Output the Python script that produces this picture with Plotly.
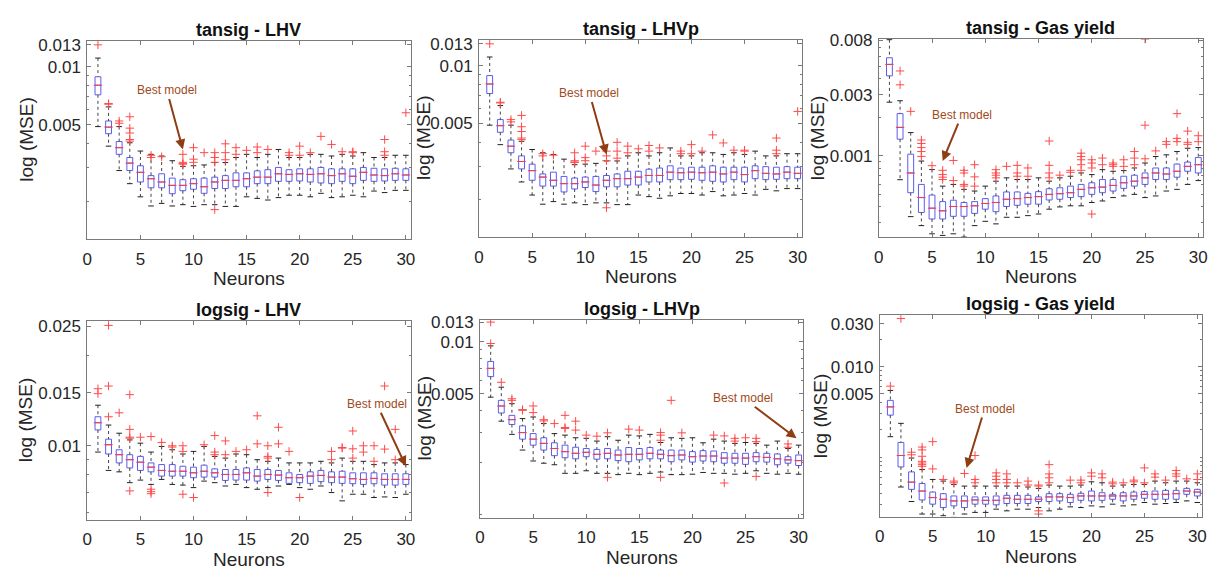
import math
import plotly.graph_objects as go

# ---------------- data ----------------
neurons = list(range(1, 31))

# tansig - LHV
tansig_lhv_q1 = [0.00716, 0.0045, 0.00352, 0.0029, 0.00253, 0.00236, 0.00236, 0.0022, 0.00228, 0.00232,
                 0.00221, 0.00234, 0.00234, 0.00239, 0.00239, 0.00248, 0.00248, 0.00255, 0.00255, 0.00256,
                 0.00253, 0.0025, 0.00248, 0.00255, 0.00248, 0.00258, 0.00255, 0.00256, 0.00258, 0.00258]
tansig_lhv_med = [0.00803, 0.00487, 0.00381, 0.00317, 0.00284, 0.00263, 0.00253, 0.00243, 0.00243, 0.00248,
                  0.00239, 0.00253, 0.00258, 0.00258, 0.00263, 0.00268, 0.00268, 0.00279, 0.00277, 0.00279,
                  0.00277, 0.00279, 0.00273, 0.00279, 0.00271, 0.00284, 0.00275, 0.00273, 0.00279, 0.00275]
tansig_lhv_q3 = [0.00888, 0.00524, 0.0041, 0.00339, 0.00307, 0.00273, 0.00279, 0.00265, 0.0026, 0.00263,
                 0.00265, 0.00268, 0.00273, 0.00282, 0.00282, 0.00289, 0.00293, 0.00301, 0.00293, 0.00296,
                 0.00296, 0.00301, 0.00296, 0.00296, 0.00296, 0.00301, 0.00298, 0.00296, 0.00298, 0.00296]
tansig_lhv_lo = [0.0049, 0.00388, 0.0029, 0.00248, 0.00212, 0.0019, 0.00196, 0.0019, 0.00193, 0.00189,
                 0.00193, 0.00193, 0.00189, 0.00189, 0.00212, 0.00208, 0.00204, 0.0021, 0.00216, 0.00216,
                 0.00212, 0.00221, 0.0021, 0.00212, 0.00216, 0.00212, 0.00227, 0.00223, 0.00229, 0.00229]
tansig_lhv_hi = [0.0111, 0.0062, 0.0049, 0.00404, 0.00366, 0.00352, 0.00345, 0.00326, 0.00305, 0.00307,
                 0.0031, 0.00319, 0.00319, 0.00339, 0.00352, 0.00339, 0.00352, 0.00373, 0.00339, 0.00339,
                 0.00352, 0.00352, 0.00345, 0.00352, 0.00345, 0.00359, 0.00339, 0.00339, 0.00348, 0.00348]
tansig_lhv_out_n = [1, 2, 2, 3, 3, 4, 4, 4, 4, 4, 6, 6, 7, 9, 9, 9, 9, 10, 10, 10, 11, 12, 12, 12, 12,
                    13, 13, 13, 14, 14, 15, 16, 16, 17, 19, 19, 20, 20, 21, 22, 23, 24, 25, 25, 28, 28, 28, 30]
tansig_lhv_out_v = [0.013, 0.00645, 0.0064, 0.00524, 0.0051, 0.00551, 0.00481, 0.00454, 0.0042, 0.00412,
                    0.00348, 0.00339, 0.00342, 0.00352, 0.0032, 0.00315, 0.00313, 0.00381, 0.00332, 0.0032,
                    0.00359, 0.00359, 0.00339, 0.0032, 0.00182, 0.00399, 0.00359, 0.0033, 0.00381, 0.00352,
                    0.00369, 0.00384, 0.00359, 0.00373, 0.00359, 0.00348, 0.00388, 0.00348, 0.00359, 0.00436,
                    0.00396, 0.00363, 0.00363, 0.00359, 0.0042, 0.00363, 0.00348, 0.00578]

# tansig - LHVp (the boxes read identically to tansig - LHV)
tansig_lhvp_q1 = list(tansig_lhv_q1)
tansig_lhvp_med = list(tansig_lhv_med)
tansig_lhvp_q3 = list(tansig_lhv_q3)
tansig_lhvp_lo = list(tansig_lhv_lo)
tansig_lhvp_hi = list(tansig_lhv_hi)
tansig_lhvp_out_n = list(tansig_lhv_out_n)
tansig_lhvp_out_v = list(tansig_lhv_out_v)

# tansig - Gas yield
tansig_gas_q1 = [0.00423, 0.00135, 0.000514, 0.00036, 0.00032, 0.00032, 0.000336, 0.000336, 0.000354, 0.000382,
                 0.000365, 0.000401, 0.00041, 0.000418, 0.000418, 0.000451, 0.000457, 0.000471, 0.000479, 0.000499,
                 0.000514, 0.00053, 0.000556, 0.000579, 0.000597, 0.000652, 0.000652, 0.00068, 0.000757, 0.000734]
tansig_gas_med = [0.0052, 0.00167, 0.000734, 0.000471, 0.000389, 0.000371, 0.000401, 0.000401, 0.000406, 0.000423,
                  0.000431, 0.000457, 0.000462, 0.000471, 0.000479, 0.000499, 0.000505, 0.000514, 0.000546, 0.000562,
                  0.000569, 0.000586, 0.000615, 0.000633, 0.000672, 0.000734, 0.000721, 0.000757, 0.000827, 0.000852]
tansig_gas_q3 = [0.00586, 0.00214, 0.00103, 0.000597, 0.000493, 0.000438, 0.000449, 0.000431, 0.000438, 0.000462,
                 0.000485, 0.000521, 0.000521, 0.000508, 0.000524, 0.000552, 0.000562, 0.000579, 0.000597, 0.000615,
                 0.000652, 0.000652, 0.000692, 0.000705, 0.000734, 0.000803, 0.000803, 0.000862, 0.000893, 0.000971]
tansig_gas_lo = [0.00263, 0.00065, 0.000334, 0.000284, 0.000245, 0.000238, 0.000245, 0.000231, 0.000284, 0.000307,
                 0.000293, 0.00033, 0.00033, 0.00034, 0.00035, 0.000382, 0.000398, 0.000406, 0.000406, 0.000431,
                 0.000443, 0.000471, 0.000485, 0.000499, 0.000471, 0.000485, 0.00053, 0.000546, 0.000597, 0.00064]
tansig_gas_hi = [0.00812, 0.0027, 0.00152, 0.00091, 0.00078, 0.000579, 0.000597, 0.000546, 0.00053, 0.000579,
                 0.000633, 0.000672, 0.000652, 0.000652, 0.000672, 0.000633, 0.000672, 0.000692, 0.000734, 0.000713,
                 0.000779, 0.000757, 0.000766, 0.000803, 0.000878, 0.000988, 0.001018, 0.00108, 0.001146, 0.00116]
tansig_gas_out_n = [2, 2, 3, 4, 4, 4, 4, 4, 5, 6, 6, 6, 6, 7, 7, 8, 8, 8, 8, 9, 9, 9, 11, 11, 11, 11, 12,
                    13, 13, 13, 14, 14, 16, 16, 16, 16, 17, 18, 18, 19, 19, 19, 19, 19, 20, 20, 20, 20,
                    21, 21, 22, 22, 22, 23, 23, 24, 24, 24, 25, 25, 25, 26, 27, 27, 28, 28, 28, 29, 29, 29, 30, 30]
tansig_gas_out_v = [0.00462, 0.0036, 0.00223, 0.00133, 0.00125, 0.00116, 0.00108, 0.00099, 0.000837,
                    0.00077, 0.000713, 0.00068, 0.000652, 0.00092, 0.00064, 0.00077, 0.000734, 0.000597, 0.000579,
                    0.000852, 0.000684, 0.000579, 0.000779, 0.000734, 0.000705, 0.000672, 0.000827,
                    0.000842, 0.000734, 0.000692, 0.000803, 0.000692, 0.001306, 0.000842, 0.000734, 0.000672,
                    0.000705, 0.00077, 0.000743, 0.001049, 0.000988, 0.000931, 0.000852, 0.00077,
                    0.000931, 0.000878, 0.000803, 0.00035, 0.00096, 0.000852, 0.000878, 0.000852, 0.000827,
                    0.000931, 0.000827, 0.00108, 0.00096, 0.000852, 0.00822, 0.001737, 0.000948, 0.001093,
                    0.001291, 0.00123, 0.00214, 0.00137, 0.001291, 0.001561, 0.001276, 0.00123, 0.001436, 0.001291]

# logsig - LHV
logsig_lhv_q1 = [0.01129, 0.00939, 0.00877, 0.00844, 0.00828, 0.00819, 0.00793, 0.00793, 0.00793, 0.00783,
                 0.00787, 0.00787, 0.00767, 0.00769, 0.00769, 0.00763, 0.00773, 0.00767, 0.0075, 0.00754,
                 0.0075, 0.0076, 0.00754, 0.0075, 0.00748, 0.00744, 0.00748, 0.0074, 0.0074, 0.00744]
logsig_lhv_med = [0.01193, 0.01008, 0.00934, 0.00899, 0.00882, 0.00849, 0.00828, 0.00823, 0.00823, 0.00813,
                  0.00823, 0.00813, 0.00803, 0.00803, 0.00813, 0.00793, 0.00803, 0.00799, 0.00783, 0.00783,
                  0.00793, 0.00797, 0.00787, 0.00787, 0.00777, 0.00773, 0.00779, 0.00773, 0.00773, 0.00773]
logsig_lhv_q3 = [0.01249, 0.01052, 0.0097, 0.00934, 0.00922, 0.00877, 0.00866, 0.00866, 0.00855, 0.00849,
                 0.00862, 0.00838, 0.00834, 0.00834, 0.00844, 0.00834, 0.00834, 0.00828, 0.00813, 0.00803,
                 0.00819, 0.00828, 0.00819, 0.00823, 0.00813, 0.00813, 0.00813, 0.00807, 0.00807, 0.00807]
logsig_lhv_lo = [0.00953, 0.00828, 0.00819, 0.00754, 0.00769, 0.00744, 0.00773, 0.00744, 0.0074, 0.00726,
                 0.00763, 0.00754, 0.00735, 0.00744, 0.00726, 0.00717, 0.00726, 0.00735, 0.00744, 0.00726,
                 0.00717, 0.00735, 0.00699, 0.00656, 0.0069, 0.0069, 0.00673, 0.00676, 0.00673, 0.0069]
logsig_lhv_hi = [0.01364, 0.01172, 0.01101, 0.01046, 0.0102, 0.00953, 0.00995, 0.0097, 0.00939, 0.00958,
                 0.00995, 0.00922, 0.0091, 0.00939, 0.00934, 0.00899, 0.00888, 0.0091, 0.00877, 0.00877,
                 0.00877, 0.00888, 0.00877, 0.0091, 0.00888, 0.00888, 0.00866, 0.00877, 0.00877, 0.00866]
logsig_lhv_out_n = [1, 1, 2, 2, 2, 3, 4, 4, 4, 4, 4, 5, 6, 6, 6, 6, 7, 8, 8, 9, 9, 9, 10, 11, 12, 12, 12,
                    13, 13, 14, 15, 16, 16, 17, 17, 17, 17, 18, 18, 19, 20, 23, 23, 24, 24, 25, 25, 25,
                    26, 26, 27, 27, 28, 28, 29, 29]
logsig_lhv_out_v = [0.01548, 0.0149, 0.02513, 0.0158, 0.01249, 0.01287, 0.01479, 0.01134, 0.01068, 0.0106,
                    0.00708, 0.01068, 0.01073, 0.00717, 0.00704, 0.00693, 0.01026, 0.01, 0.0099, 0.01, 0.00958,
                    0.0069, 0.00673, 0.01008, 0.01081, 0.00953, 0.00934, 0.01038, 0.00934, 0.00958, 0.0097,
                    0.01258, 0.01015, 0.01, 0.00922, 0.0091, 0.00699, 0.01152, 0.01015, 0.00958, 0.00673,
                    0.00958, 0.00899, 0.00987, 0.00982, 0.0112, 0.00977, 0.0091, 0.01, 0.00953, 0.01, 0.00888,
                    0.0158, 0.00975, 0.01134, 0.00899]

# logsig - LHVp
logsig_lhvp_q1 = [0.00629, 0.00387, 0.00332, 0.00273, 0.00252, 0.00236, 0.00219, 0.00213, 0.0021, 0.00216,
                  0.00209, 0.0021, 0.00205, 0.00202, 0.00207, 0.0021, 0.0021, 0.00202, 0.00207, 0.00201,
                  0.00204, 0.00202, 0.00198, 0.00198, 0.00195, 0.00202, 0.00201, 0.00194, 0.00198, 0.00192]
logsig_lhvp_med = [0.00702, 0.00425, 0.00354, 0.00298, 0.00273, 0.00258, 0.00241, 0.00231, 0.00226, 0.00229,
                   0.00223, 0.00226, 0.00221, 0.00223, 0.00223, 0.00226, 0.00223, 0.00219, 0.00221, 0.00216,
                   0.00218, 0.00218, 0.00212, 0.00212, 0.00212, 0.00216, 0.00214, 0.0021, 0.00207, 0.00205]
logsig_lhvp_q3 = [0.0077, 0.00458, 0.00375, 0.00326, 0.00294, 0.00278, 0.0026, 0.00252, 0.00245, 0.00241,
                  0.00238, 0.00241, 0.00236, 0.00244, 0.00241, 0.00244, 0.00236, 0.00236, 0.00236, 0.00231,
                  0.00234, 0.00233, 0.00228, 0.00226, 0.00226, 0.00228, 0.00226, 0.00224, 0.00216, 0.00221]
logsig_lhvp_lo = [0.00478, 0.00347, 0.00291, 0.00236, 0.00204, 0.00198, 0.00194, 0.00173, 0.00173, 0.00179,
                  0.00173, 0.00173, 0.0017, 0.00173, 0.0017, 0.00173, 0.00176, 0.0017, 0.0017, 0.00171,
                  0.00175, 0.00173, 0.00173, 0.00171, 0.00173, 0.00179, 0.00173, 0.00171, 0.00173, 0.00171]
logsig_lhvp_hi = [0.00948, 0.00546, 0.00438, 0.00359, 0.00367, 0.00336, 0.00294, 0.00288, 0.00278, 0.00276,
                  0.00266, 0.00282, 0.00269, 0.00288, 0.00285, 0.00291, 0.00261, 0.00278, 0.00276, 0.00278,
                  0.0026, 0.00273, 0.00266, 0.00258, 0.00261, 0.00258, 0.00252, 0.00266, 0.00241, 0.00252]
logsig_lhvp_out_n = [1, 1, 2, 3, 3, 4, 4, 5, 5, 6, 6, 7, 8, 8, 8, 9, 9, 10, 11, 12, 12, 14, 15, 17, 17, 17,
                     17, 18, 19, 22, 23, 23, 24, 24, 25, 26, 26, 26, 29, 29]
logsig_lhvp_out_v = [0.01302, 0.00978, 0.00583, 0.00468, 0.00458, 0.00405, 0.00401, 0.00425, 0.00389, 0.00354,
                     0.00348, 0.00336, 0.00375, 0.00319, 0.00315, 0.00347, 0.00308, 0.00288, 0.00284, 0.00297,
                     0.00164, 0.00312, 0.00308, 0.00298, 0.00288, 0.00269, 0.00164, 0.00458, 0.00297, 0.00288,
                     0.00285, 0.00152, 0.00276, 0.00266, 0.00278, 0.00276, 0.00264, 0.00166, 0.00256, 0.00245]

# logsig - Gas yield
logsig_gas_q1 = [0.00291, 0.000777, 0.000439, 0.000335, 0.000301, 0.000276, 0.000288, 0.000276, 0.000301, 0.000301,
                 0.000296, 0.000306, 0.000306, 0.000306, 0.000322, 0.000322, 0.000327, 0.000314, 0.000332, 0.000327,
                 0.000332, 0.000341, 0.000327, 0.000341, 0.00035, 0.000341, 0.000341, 0.000341, 0.000387, 0.000371]
logsig_gas_med = [0.00359, 0.00104, 0.000528, 0.000421, 0.000356, 0.000341, 0.000327, 0.000327, 0.000335, 0.000332,
                  0.000332, 0.00035, 0.000341, 0.000341, 0.000341, 0.000362, 0.000362, 0.000356, 0.000371, 0.000371,
                  0.000371, 0.000371, 0.000371, 0.000371, 0.000387, 0.000387, 0.000387, 0.000393, 0.000421, 0.00041]
logsig_gas_q3 = [0.00424, 0.00145, 0.000685, 0.00051, 0.00041, 0.000393, 0.000371, 0.000371, 0.000362, 0.000362,
                 0.000371, 0.000377, 0.000377, 0.000377, 0.000362, 0.000393, 0.000393, 0.000387, 0.000397, 0.000421,
                 0.000403, 0.000387, 0.000403, 0.00041, 0.000414, 0.000421, 0.000428, 0.000428, 0.00045, 0.000439]
logsig_gas_lo = [0.00168, 0.000466, 0.000322, 0.000234, 0.000234, 0.000224, 0.000215, 0.000234, 0.000244, 0.000244,
                 0.000265, 0.000254, 0.000265, 0.000265, 0.000276, 0.000254, 0.000265, 0.000281, 0.000276, 0.000288,
                 0.000281, 0.000301, 0.000288, 0.000296, 0.000314, 0.000301, 0.000306, 0.000314, 0.000327, 0.000314]
logsig_gas_hi = [0.00546, 0.00236, 0.000975, 0.000727, 0.000565, 0.000542, 0.000498, 0.000477, 0.000477, 0.000477,
                 0.000477, 0.000477, 0.000477, 0.000466, 0.00045, 0.00049, 0.000477, 0.000477, 0.00049, 0.000532,
                 0.000519, 0.000477, 0.00049, 0.000498, 0.000498, 0.000542, 0.000519, 0.000542, 0.000542, 0.000519]
logsig_gas_out_n = [1, 2, 3, 3, 4, 4, 4, 4, 4, 4, 4, 5, 5, 6, 7, 7, 8, 9, 9, 9, 11, 11, 11, 11, 12, 12, 12,
                    13, 14, 14, 15, 15, 15, 15, 16, 16, 16, 16, 18, 19, 19, 20, 20, 21, 21, 22, 22, 23,
                    24, 24, 25, 25, 26, 26, 27, 28, 28, 28, 29, 30, 30]
logsig_gas_out_v = [0.00609, 0.0341, 0.00113, 0.00106, 0.00129, 0.0012, 0.00102, 0.000897, 0.000859, 0.000824,
                    0.00079, 0.00148, 0.000739, 0.000565, 0.000542, 0.000519, 0.000657, 0.00104, 0.000565,
                    0.000519, 0.000668, 0.000614, 0.000565, 0.000519, 0.000651, 0.000565, 0.000519,
                    0.000519, 0.000542, 0.00049, 0.00049, 0.000477, 0.000254, 0.000234, 0.000824, 0.000651,
                    0.000589, 0.000519, 0.000555, 0.000555, 0.000519, 0.000668, 0.000614, 0.000651, 0.000589,
                    0.000528, 0.000506, 0.000519, 0.000555, 0.000532, 0.000758, 0.000519, 0.000651, 0.000599,
                    0.000555, 0.000709, 0.000651, 0.000614, 0.000574, 0.000651, 0.000565]

titles = ["tansig - LHV", "tansig - LHVp", "tansig - Gas yield",
          "logsig - LHV", "logsig - LHVp", "logsig - Gas yield"]
x_ticks = [0, 5, 10, 15, 20, 25, 30]
y_ticks = [[0.005, 0.01, 0.013], [0.005, 0.01, 0.013], [0.001, 0.003, 0.008],
           [0.01, 0.015, 0.025], [0.005, 0.01, 0.013], [0.005, 0.010, 0.030]]
y_ticktext = [["0.005", "0.01", "0.013"], ["0.005", "0.01", "0.013"], ["0.001", "0.003", "0.008"],
              ["0.01", "0.015", "0.025"], ["0.005", "0.01", "0.013"], ["0.005", "0.010", "0.030"]]
best_neurons = [9, 12, 6, 30, 29.8, 8.2]
best_mse = [0.00373, 0.00345, 0.00091, 0.00855, 0.00276, 0.000758]

series = [
    (tansig_lhv_q1, tansig_lhv_med, tansig_lhv_q3, tansig_lhv_lo, tansig_lhv_hi, tansig_lhv_out_n, tansig_lhv_out_v),
    (tansig_lhvp_q1, tansig_lhvp_med, tansig_lhvp_q3, tansig_lhvp_lo, tansig_lhvp_hi, tansig_lhvp_out_n, tansig_lhvp_out_v),
    (tansig_gas_q1, tansig_gas_med, tansig_gas_q3, tansig_gas_lo, tansig_gas_hi, tansig_gas_out_n, tansig_gas_out_v),
    (logsig_lhv_q1, logsig_lhv_med, logsig_lhv_q3, logsig_lhv_lo, logsig_lhv_hi, logsig_lhv_out_n, logsig_lhv_out_v),
    (logsig_lhvp_q1, logsig_lhvp_med, logsig_lhvp_q3, logsig_lhvp_lo, logsig_lhvp_hi, logsig_lhvp_out_n, logsig_lhvp_out_v),
    (logsig_gas_q1, logsig_gas_med, logsig_gas_q3, logsig_gas_lo, logsig_gas_hi, logsig_gas_out_n, logsig_gas_out_v),
]

# ---------------- layout (pixel geometry of the panels) ----------------
W, H = 1219, 572
panel_px = [  # left, right, top, bottom
    (83, 409, 34, 235), (478, 804, 33, 233), (881, 1208, 32, 233),
    (83, 409, 318, 519), (479, 805, 317, 517), (882, 1207, 312, 516),
]
y_log_ranges = [(-2.893, -1.864), (-2.893, -1.864), (-3.637, -2.082),
                (-2.2456, -1.5855), (-3.019, -1.874), (-3.66, -1.43)]
ytitle_offset = [61, 56, 61, 62, 56, 59]
arrow_offsets = [(-16, -59), (-17, -61), (19, -46), (-29, -62), (-53, -40), (18, -59)]

FONT = "Liberation Sans, Arial, sans-serif"
AXIS_COLOR = "#7a7a7a"
TEXT_COLOR = "#262626"
BOX_COLOR = "#5c5cf0"
MED_COLOR = "#ff3a3a"
OUT_COLOR = "#ff4a4a"
BEST_COLOR = "#8f3d12"

fig = go.Figure()
annotations = []

for i, (q1, med, q3, lo, hi, out_n, out_v) in enumerate(series):
    k = "" if i == 0 else str(i + 1)
    xa, ya = "x" + k, "y" + k
    l, r, t, b = panel_px[i]

    # dotted whiskers
    wx, wy = [], []
    for n, a, bq, cq, d in zip(neurons, lo, q1, q3, hi):
        wx += [n, n, None, n, n, None]
        wy += [d, cq, None, bq, a, None]
    fig.add_trace(go.Scatter(x=wx, y=wy, mode="lines", xaxis=xa, yaxis=ya,
                             line=dict(color="#444444", width=1, dash="dot"),
                             hoverinfo="skip", showlegend=False))
    # whisker caps
    fig.add_trace(go.Scatter(x=neurons + neurons, y=lo + hi, mode="markers", xaxis=xa, yaxis=ya,
                             marker=dict(symbol="line-ew", size=4, line=dict(color="#222222", width=1)),
                             hoverinfo="skip", showlegend=False))
    # boxes
    fig.add_trace(go.Box(x=neurons, q1=q1, median=med, q3=q3, lowerfence=q1, upperfence=q3,
                         xaxis=xa, yaxis=ya, width=0.55, whiskerwidth=0,
                         line=dict(color=BOX_COLOR, width=1), fillcolor="rgba(0,0,0,0)",
                         boxpoints=False, showlegend=False))
    # medians
    fig.add_trace(go.Scatter(x=neurons, y=med, mode="markers", xaxis=xa, yaxis=ya,
                             marker=dict(symbol="line-ew", size=6, line=dict(color=MED_COLOR, width=1)),
                             hoverinfo="skip", showlegend=False))
    # outliers
    fig.add_trace(go.Scatter(x=out_n, y=out_v, mode="markers", xaxis=xa, yaxis=ya,
                             marker=dict(symbol="cross-thin", size=6, line=dict(color=OUT_COLOR, width=1)),
                             showlegend=False))

    lo_r, hi_r = y_log_ranges[i]
    minor_vals = [m * 10 ** e for e in range(-5, 0) for m in range(1, 10)]
    minor_vals = [v for v in minor_vals if v not in y_ticks[i]]
    fig.update_layout({
        "xaxis" + k: dict(domain=[l / W, r / W], anchor=ya, range=[0, 30.45],
                          tickvals=x_ticks, ticks="inside", ticklen=4, mirror="ticks",
                          showline=True, linecolor=AXIS_COLOR, tickcolor=AXIS_COLOR, linewidth=1,
                          showgrid=False, zeroline=False, ticklabelstandoff=4,
                          tickfont=dict(family=FONT, size=17, color=TEXT_COLOR)),
        "yaxis" + k: dict(domain=[1 - b / H, 1 - t / H], anchor=xa, type="log", range=[lo_r, hi_r],
                          tickvals=y_ticks[i], ticktext=y_ticktext[i], ticks="inside", ticklen=4,
                          mirror="ticks", showline=True, linecolor=AXIS_COLOR, tickcolor=AXIS_COLOR,
                          linewidth=1, showgrid=False, zeroline=False, ticklabelstandoff=2,
                          minor=dict(tickvals=minor_vals, ticks="inside", ticklen=2, tickcolor=AXIS_COLOR),
                          tickfont=dict(family=FONT, size=17, color=TEXT_COLOR)),
    })

    cx = (l + r) / 2 / W
    annotations.append(dict(text="<b>" + titles[i] + "</b>", x=cx, y=1 - (t - 11) / H,
                            xref="paper", yref="paper", showarrow=False, xanchor="center", yanchor="middle",
                            font=dict(family=FONT, size=18, color="#111111")))
    annotations.append(dict(text="Neurons", x=cx, y=1 - (b + 40) / H, xref="paper", yref="paper",
                            showarrow=False, xanchor="center", yanchor="middle",
                            font=dict(family=FONT, size=19, color=TEXT_COLOR)))
    annotations.append(dict(text="log (MSE)", x=(l - ytitle_offset[i]) / W, y=1 - (t + b) / 2 / H,
                            xref="paper", yref="paper", showarrow=False, textangle=-90,
                            xanchor="center", yanchor="middle",
                            font=dict(family=FONT, size=19, color=TEXT_COLOR)))
    ax, ay = arrow_offsets[i]
    annotations.append(dict(text="Best model", x=best_neurons[i], y=math.log10(best_mse[i]),
                            xref=xa, yref=ya, showarrow=True, ax=ax, ay=ay,
                            arrowhead=2, arrowsize=1, arrowwidth=2, arrowcolor=BEST_COLOR,
                            font=dict(family=FONT, size=12, color="#a04a1c")))

fig.update_layout(width=W, height=H, margin=dict(l=0, r=0, t=0, b=0),
                  paper_bgcolor="white", plot_bgcolor="white", showlegend=False,
                  annotations=annotations)

fig.write_html("out.html", config={"displayModeBar": False},
               post_script="document.body.style.margin='0';document.body.style.overflow='hidden';")
